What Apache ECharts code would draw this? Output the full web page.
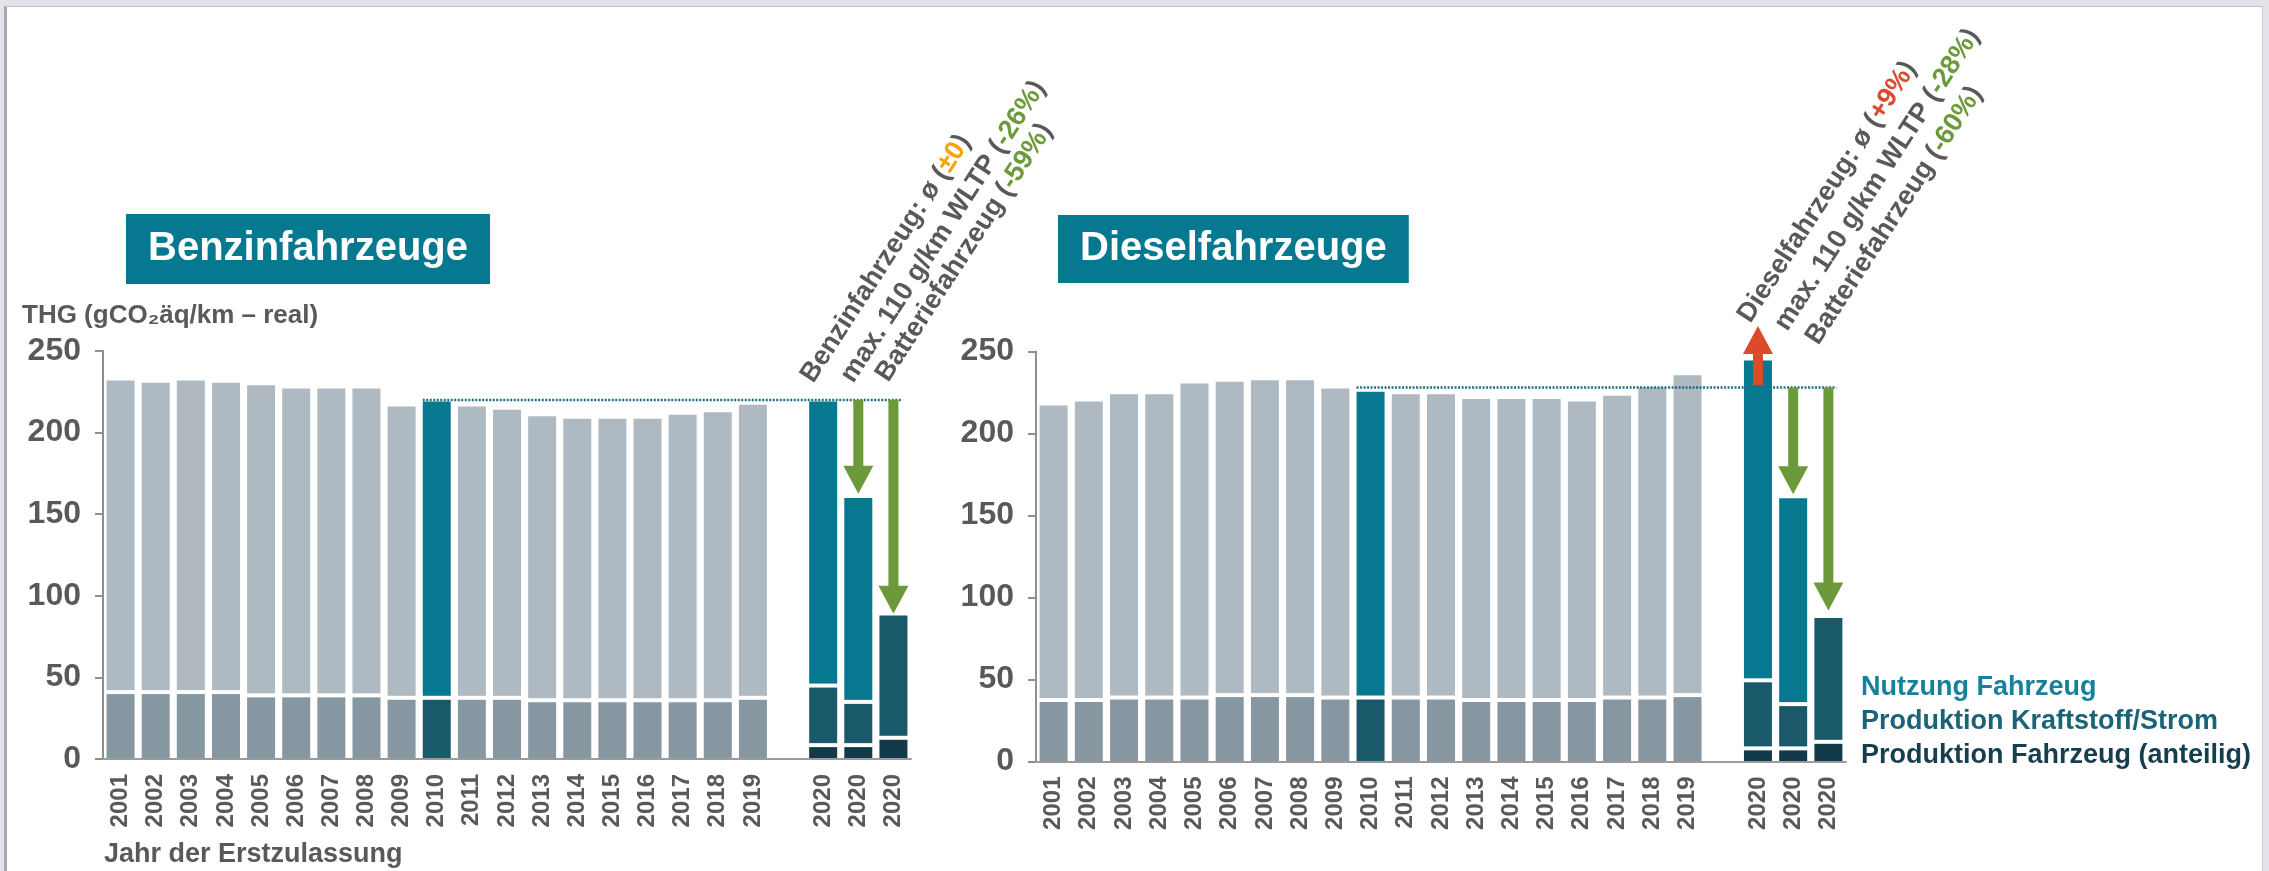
<!DOCTYPE html>
<html>
<head>
<meta charset="utf-8">
<title>THG Benzin- und Dieselfahrzeuge</title>
<script src="https://cdn.jsdelivr.net/npm/echarts@6/dist/echarts.min.js"></script>
<style>
  html, body { margin: 0; padding: 0; width: 2269px; height: 871px; overflow: hidden; background: #e3e4e9; }
  #frame { position: absolute; left: 4px; top: 6px; width: 2259px; height: 865px; box-sizing: border-box;
           background: #fff; border-left: 3px solid #a9a9ab; border-top: 1px solid #c3c3c6; border-right: 1px solid #cdcdd0; }
  #main { position: absolute; left: 0; top: 0; width: 2269px; height: 871px; }
</style>
</head>
<body>
<div id="frame"></div>
<div id="main"></div>
<script>
// categories
const years = ['2001', '2002', '2003', '2004', '2005', '2006', '2007', '2008', '2009', '2010',
               '2011', '2012', '2013', '2014', '2015', '2016', '2017', '2018', '2019'];
const cases2020 = ['2020', '2020', '2020'];
const highlightYear = '2010';
const seriesNames = ['Produktion Fahrzeug (anteilig)', 'Produktion Kraftstoff/Strom', 'Nutzung Fahrzeug'];

// Benzin (gCO2aeq/km)
const benzinKraftstoff = [41, 41, 41, 41, 39, 39, 39, 39, 37.5, 37.5, 37.5, 37.5, 36, 36, 36, 36, 36, 36, 37.5];
const benzinNutzung = [191, 189.5, 191, 189.5, 190, 188, 188, 188, 178.5, 181.5, 178.5, 176.5, 174, 172.5, 172.5, 172.5, 175, 176.5, 179.5];
const benzin2020Fahrzeug = [8.5, 8.5, 13];
const benzin2020Kraftstoff = [36.5, 26.5, 75];
const benzin2020Nutzung = [174, 125, null];
const benzinRef = 220;
const benzinArrows = [[1, 220, 162.5], [2, 220, 89]];   // [case, from, tip]
const benzinNotes = ['Benzinfahrzeug: ø (', 'max. 110 g/km WLTP (', 'Batteriefahrzeug ('];
const benzinChanges = ['±0', '-26%', '-59%'];

// Diesel
const dieselKraftstoff = [37.5, 37.5, 39, 39, 39, 40.5, 40.5, 40.5, 39, 39, 39, 39, 37.5, 37.5, 37.5, 37.5, 39, 39, 40.5];
const dieselNutzung = [179.5, 182, 185, 185, 191.5, 191, 192, 192, 188.5, 186.5, 185, 185, 183.5, 183.5, 183.5, 182, 184, 189, 195];
const diesel2020Fahrzeug = [8, 8, 12];
const diesel2020Kraftstoff = [41.5, 27, 75.5];
const diesel2020Nutzung = [195, 125.5, null];
const dieselRef = 228;
const dieselArrows = [[0, 230, 265.5], [1, 228, 163], [2, 228, 92]];
const dieselNotes = ['Dieselfahrzeug: ø (', 'max. 110 g/km WLTP (', 'Batteriefahrzeug ('];
const dieselChanges = ['+9%', '-28%', '-60%'];

const FONT = '"Liberation Sans", Arial, sans-serif';
const TXT = '#58595b';
const COL = {
  light: '#aeb9c1', mid: '#8697a1', teal: '#06788f', dark: '#1a596a', darkest: '#133a48',
  green: '#6c9a3b', red: '#dc4a2b', orange: '#f3a500', ref: '#1d6e85'
};
const BAR_W = 28;

const cats = years.concat([''], cases2020);
const hiIdx = years.indexOf(highlightYear);
const caseIdx = function (c) { return years.length + 1 + c; };

function items(yearVals, caseVals, yearColor, hiColor, caseColor) {
  const out = years.map(function (y, i) {
    if (!yearVals) return null;
    return { value: yearVals[i], itemStyle: { color: y === highlightYear ? hiColor : yearColor } };
  });
  out.push(null);
  caseVals.forEach(function (v) {
    out.push(v == null ? null : { value: v, itemStyle: { color: caseColor } });
  });
  return out;
}

// segment borders inside each stacked bar: [category, value]
function boundaries(kYears, f20, k20, n20) {
  const out = kYears.map(function (v, i) { return [i, v]; });
  f20.forEach(function (f, c) {
    out.push([caseIdx(c), f]);
    if (n20[c] != null) out.push([caseIdx(c), f + k20[c]]);
  });
  return out;
}

function gapLine(params, api) {
  const p = api.coord([api.value(0), api.value(1)]);
  return { type: 'rect', shape: { x: p[0] - BAR_W / 2 - 1, y: p[1] - 2, width: BAR_W + 2, height: 4 }, style: { fill: '#fff' } };
}

function refLine(params, api) {
  const y = api.value(2);
  const a = api.coord([api.value(0), y]);
  const b = api.coord([api.value(1), y]);
  return {
    type: 'line',
    shape: { x1: a[0] - BAR_W / 2, y1: a[1], x2: b[0] + 8, y2: b[1] },
    style: { stroke: COL.ref, lineWidth: 2.5, lineDash: [2, 1.5] }
  };
}

function arrow(params, api) {
  const cat = api.value(0);
  const a = api.coord([cat, api.value(1)]);
  const b = api.coord([cat, api.value(2)]);
  const up = b[1] < a[1];
  const color = up ? COL.red : COL.green;
  const headH = 28, headW = 30, shaftW = 10;
  const baseY = up ? b[1] + headH : b[1] - headH;
  return {
    type: 'group',
    children: [
      { type: 'rect', shape: { x: a[0] - shaftW / 2, y: Math.min(a[1], baseY), width: shaftW, height: Math.abs(baseY - a[1]) + 1 },
        style: { fill: color } },
      { type: 'polygon', shape: { points: [[a[0] - headW / 2, baseY], [a[0] + headW / 2, baseY], [a[0], b[1]]] },
        style: { fill: color } }
    ]
  };
}

function panel(i, stack, kYears, nYears, f20, k20, n20, ref, arrows) {
  function bar(name, data) {
    return {
      name: name, type: 'bar', stack: stack, xAxisIndex: i, yAxisIndex: i, barWidth: BAR_W, z: 2,
      emphasis: { disabled: true }, data: data
    };
  }
  return [
    bar(seriesNames[0], items(null, f20, null, null, COL.darkest)),
    bar(seriesNames[1], items(kYears, k20, COL.mid, COL.dark, COL.dark)),
    bar(seriesNames[2], items(nYears, n20, COL.light, COL.teal, COL.teal)),
    { type: 'custom', xAxisIndex: i, yAxisIndex: i, z: 4, silent: true, clip: false,
      encode: { x: 0, y: 1 }, data: boundaries(kYears, f20, k20, n20), renderItem: gapLine },
    { type: 'custom', xAxisIndex: i, yAxisIndex: i, z: 5, silent: true, clip: false,
      encode: { x: [0, 1], y: 2 }, data: [[hiIdx, cats.length - 1, ref]], renderItem: refLine },
    { type: 'custom', xAxisIndex: i, yAxisIndex: i, z: 6, silent: true, clip: false,
      encode: { x: 0, y: [1, 2] },
      data: arrows.map(function (a) { return [caseIdx(a[0]), a[1], a[2]]; }),
      renderItem: arrow }
  ];
}

// rotated notes above the 2020 bars
function note(p, text, change) {
  const ang = 57 * Math.PI / 180;
  const d = 9.4;
  const color = change[0] === '+' ? COL.red : (change[0] === '-' ? COL.green : COL.orange);
  const f = { fontSize: 27, fontWeight: 'bold', fontFamily: FONT };
  return {
    type: 'text', silent: true, rotation: ang,
    x: p[0] - d * Math.sin(ang), y: p[1] - d * Math.cos(ang),
    style: Object.assign({
      text: '{g|' + text + '}{c|' + change + '}{g|)}',
      rich: { g: Object.assign({ fill: TXT, color: TXT }, f), c: Object.assign({ fill: color, color: color }, f) },
      fill: TXT, align: 'left', verticalAlign: 'middle', textAlign: 'left', textVerticalAlign: 'middle'
    }, f)
  };
}
const benzinNotePos = [[815, 385], [855, 385], [890, 384]];
const dieselNotePos = [[1752, 325], [1789, 333], [1820, 347]];

const chart = echarts.init(document.getElementById('main'), null, { width: 2269, height: 871 });

const axisGray = '#8f8f8f';
const option = {
  backgroundColor: 'transparent',
  animation: false,
  title: [
    { text: 'Benzinfahrzeuge', left: 126, top: 214, backgroundColor: COL.teal, padding: [15, 22, 15, 22],
      textStyle: { color: '#fff', fontSize: 40, fontWeight: 'bold', fontFamily: FONT } },
    { text: 'Dieselfahrzeuge', left: 1058, top: 215, backgroundColor: COL.teal, padding: [14, 22, 14, 22],
      textStyle: { color: '#fff', fontSize: 40, fontWeight: 'bold', fontFamily: FONT } }
  ],
  legend: {
    orient: 'vertical', left: 1851, top: 669, icon: 'none', itemWidth: 0, itemHeight: 27, itemGap: 7,
    textStyle: { fontSize: 27, fontWeight: 'bold', fontFamily: FONT },
    data: [
      { name: seriesNames[2], textStyle: { color: '#17809a' } },
      { name: seriesNames[1], textStyle: { color: '#1b6376' } },
      { name: seriesNames[0], textStyle: { color: '#153e4e' } }
    ]
  },
  grid: [
    { left: 103, top: 351, width: 808, height: 408, containLabel: false, outerBoundsMode: 'none' },
    { left: 1036, top: 351.5, width: 810, height: 410, containLabel: false, outerBoundsMode: 'none' }
  ],
  xAxis: [0, 1].map(function (i) {
    return {
      gridIndex: i, type: 'category', data: cats, z: 3,
      axisTick: { show: false },
      axisLine: { show: true, lineStyle: { color: '#9b9b9b', width: 2 } },
      axisLabel: { interval: 0, rotate: 90, margin: 15, fontSize: 24, fontWeight: 'bold', color: TXT, fontFamily: FONT }
    };
  }),
  yAxis: [0, 1].map(function (i) {
    return {
      gridIndex: i, type: 'value', min: 0, max: 250, interval: 50,
      splitLine: { show: false },
      axisLine: { show: true, lineStyle: { color: axisGray, width: 2 } },
      axisTick: { show: true, length: 8, lineStyle: { color: axisGray, width: 2 } },
      axisLabel: { margin: 22, fontSize: 32, fontWeight: 'bold', color: TXT, fontFamily: FONT }
    };
  }),
  graphic: [
    { type: 'text', left: 22, top: 303, silent: true,
      style: { text: 'THG (gCO₂äq/km – real)', fill: TXT, fontSize: 26, fontWeight: 'bold', fontFamily: FONT } },
    { type: 'text', left: 104, top: 841, silent: true,
      style: { text: 'Jahr der Erstzulassung', fill: TXT, fontSize: 27, fontWeight: 'bold', fontFamily: FONT } }
  ].concat(
    benzinNotes.map(function (t, k) { return note(benzinNotePos[k], t, benzinChanges[k]); }),
    dieselNotes.map(function (t, k) { return note(dieselNotePos[k], t, dieselChanges[k]); })
  ),
  series: [].concat(
    panel(0, 'benzin', benzinKraftstoff, benzinNutzung, benzin2020Fahrzeug, benzin2020Kraftstoff, benzin2020Nutzung, benzinRef, benzinArrows),
    panel(1, 'diesel', dieselKraftstoff, dieselNutzung, diesel2020Fahrzeug, diesel2020Kraftstoff, diesel2020Nutzung, dieselRef, dieselArrows)
  )
};

chart.setOption(option);
</script>
</body>
</html>
